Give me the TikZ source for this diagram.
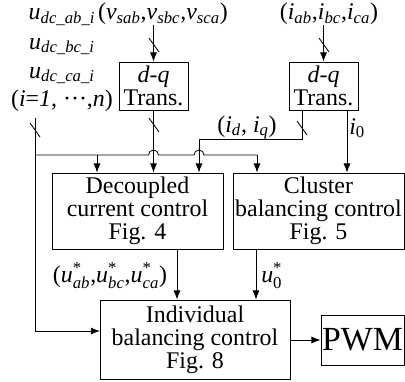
\documentclass[tikz,border=0pt]{standalone}
\usepackage{amsmath}
\usepackage{fontspec}
\setmainfont{Liberation Serif}
\usetikzlibrary{arrows.meta,calc}

\tikzstyle{block}=[draw, line width=0.6pt, inner sep=0pt, align=center, font=\fontsize{17}{16.5}\selectfont]
\tikzstyle{lbl}=[inner sep=0pt, font=\fontsize{17}{17}\selectfont]
\tikzstyle{wire}=[draw, line width=0.6pt]
\tikzstyle{arr}=[wire, -{Latex[length=6.5pt, width=5pt]}]

% italic symbol with italic subscript, and the starred reference version
\newcommand{\ivar}[2]{\textit{#1}\textsubscript{\textit{#2}}}
\newcommand{\iref}[2]{\textit{#1}$^{\text{*}}_{\text{#2}}$}

\begin{document}
\begin{tikzpicture}[x=0.025cm, y=-0.025cm]
	\useasboundingbox (0,0) rectangle (405,381);
	% blocks
	\node[block, minimum width=1.725cm, minimum height=1.2cm] (dq1) at (153.5,86) {\textit{d}-\textit{q}\\Trans.};
	\node[block, minimum width=1.725cm, minimum height=1.2cm] (dq2) at (323.5,86) {\textit{d}-\textit{q}\\Trans.};
	\node[block, minimum width=4.275cm, minimum height=1.9cm] (dcc) at (137.5,211) {Decoupled\\current control\\Fig. 4};
	\node[block, minimum width=4.275cm, minimum height=1.9cm] (cbc) at (318.5,211) {Cluster\\balancing control\\Fig. 5};
	\node[block, minimum width=4.75cm, minimum height=1.975cm] (ibc) at (195,339.5) {Individual\\balancing control\\Fig. 8};
	\node[block, minimum width=2.075cm, minimum height=1.25cm, font=\fontsize{24}{24}\selectfont] (pwm) at (362.5,340) {PWM};

	% signal labels
	\foreach \y/\name/\ph in {20/udcab/ab, 49/udcbc/bc, 78/udcca/ca}
		\node[lbl, anchor=base] (\name) at (62,\y) {\ivar{u}{dc\_\ph\_i}};
	\node[lbl, anchor=base] (irange) at (62,106) {(\textit{i}=\textit{1}, \textperiodcentered\textperiodcentered\textperiodcentered,\textit{n})};
	\node[lbl, anchor=base] (vin) at (163,20) {(\ivar{v}{sab},\ivar{v}{sbc},\ivar{v}{sca})};
	\node[lbl, anchor=base] (iin) at (329,20) {(\ivar{i}{ab},\ivar{i}{bc},\ivar{i}{ca})};
	\node[lbl, anchor=base] (idqlbl) at (247,132) {(\ivar{i}{d}, \ivar{i}{q})};
	\node[lbl, anchor=base west] (i0lbl) at (349,134) {\textit{i}\textsubscript{0}};
	\node[lbl, anchor=base] (uref) at (110,282) {(\iref{u}{\textit{ab}},\iref{u}{\textit{bc}},\iref{u}{\textit{ca}})};
	\node[lbl, anchor=base west] (u0ref) at (261,282) {\iref{u}{0}};

	% junctions and free ends
	\coordinate (bustop) at (35,118);
	\coordinate (bus) at (35,155);
	\coordinate (busin) at (100,331);
	\coordinate (idq) at (302,110);
	\coordinate (jdq) at (199,139);
	\coordinate (io) at (347,110);
	\coordinate (tapA) at (97,155);
	\coordinate (tapB) at (257,155);
	\coordinate (uabc) at (177,249);
	\coordinate (uzero) at (256,249);

	% connectors
	\draw[arr] (vin.south -| dq1.north) -- (dq1.north);
	\draw[arr] (iin.south -| dq2.north) -- (dq2.north);
	\draw[arr] (dq1.south) -- (dq1.south |- dcc.north);
	\draw[arr] (idq) |- (jdq) -- (jdq |- dcc.north);
	\draw[arr] (io) -- (io |- cbc.north);
	\draw[arr] (bustop) |- (busin);
	\draw[wire] (bus) -- ($(dq1.south |- bus)+(-5,0)$) arc (180:360:5)
		-- ($(jdq |- bus)+(-5,0)$) arc (180:360:5) -- (tapB);
	\draw[arr] (tapA) -- (tapA |- dcc.north);
	\draw[arr] (tapB) -- (tapB |- cbc.north);
	\draw[arr] (uabc) -- (uabc |- ibc.north);
	\draw[arr] (uzero) -- (uzero |- ibc.north);
	\draw[arr] (ibc.east |- pwm.west) -- (pwm.west);

	% bus width marks
	\foreach \pos in {(154,45), (324,45), (154,125), (302,128), (35,130)}
		\draw[wire] \pos ++(-5,-7) -- ++(10,14);
\end{tikzpicture}
\end{document}
